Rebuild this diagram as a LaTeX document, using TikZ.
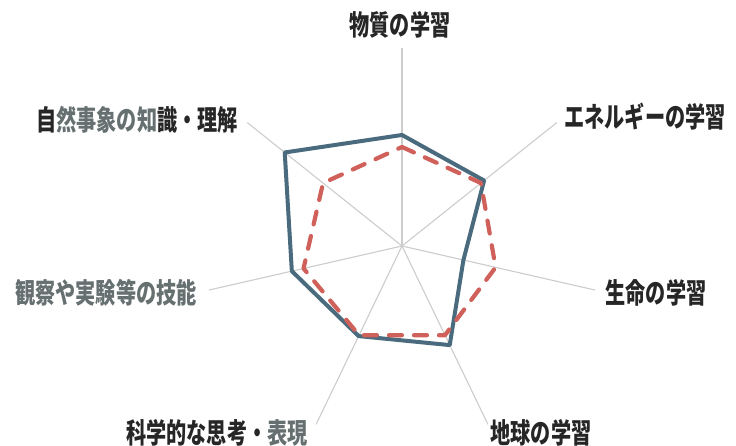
\documentclass[tikz,border=0pt]{standalone}
\usepackage{fontspec}
\newfontfamily\jpfont{Noto Sans CJK JP}[FakeStretch=0.72]
\definecolor{txt}{HTML}{262626}
\definecolor{txtgray}{HTML}{667070}
\definecolor{axisgray}{HTML}{CCCCCC}
\definecolor{seriesblue}{HTML}{4A6A7E}
\definecolor{seriesred}{HTML}{D0605A}
\tikzset{
  lbl/.style={inner sep=0pt, text=txt, font=\jpfont\bfseries\fontsize{28}{30}\selectfont},
  axisline/.style={draw=axisgray, line width=1.1pt},
  blueline/.style={draw=seriesblue, line width=4pt, line join=round},
  reddash/.style={draw=seriesred, line width=4.2pt, line cap=round, line join=round, dash pattern=on 13pt off 12pt}
}
\begin{document}
\begin{tikzpicture}[x=1pt,y=1pt]
\useasboundingbox (0,0) rectangle (736,446);
\coordinate (C) at (402,200);
\begin{scope}[shift={(402,200)}]
  % axis ends
  \foreach \i/\a in {1/90,2/38.571,3/-12.857,4/-64.286,5/-115.714,6/-167.143,7/141.429}{
    \coordinate (E\i) at (\a:198pt);
  }
  % blue series
  \coordinate (B1) at (90:111pt);
  \coordinate (B2) at (38.571:105pt);
  \coordinate (B3) at (-12.857:63pt);
  \coordinate (B4) at (-64.286:110pt);
  \coordinate (B5) at (-115.714:100pt);
  \coordinate (B6) at (-167.143:113pt);
  \coordinate (B7) at (141.429:150pt);
  % red series
  \coordinate (R1) at (90:99pt);
  \coordinate (R2) at (38.571:101pt);
  \coordinate (R3) at (-12.857:96pt);
  \coordinate (R4) at (-64.286:99pt);
  \coordinate (R5) at (-115.714:99pt);
  \coordinate (R6) at (-167.143:101pt);
  \coordinate (R7) at (141.429:101pt);
\end{scope}
\foreach \i in {1,...,7}{ \draw[axisline] (C) -- (E\i); }
\draw[blueline] (B1) -- (B2) -- (B3) -- (B4) -- (B5) -- (B6) -- (B7) -- cycle;
\draw[reddash] (R1) -- (R2) -- (R3) -- (R4) -- (R5) -- (R6) -- (R7) -- cycle;
% labels
\node[lbl] (L1) at (400,421) {物質の学習};
\node[lbl] (L2) at (645,329) {エネルギーの学習};
\node[lbl] (L3) at (656,153) {生命の学習};
\node[lbl] (L4) at (541,13) {地球の学習};
\node[lbl] (L5) at (217,13) {科学的な思考・\textcolor{txtgray}{表現}};
\node[lbl, text=txtgray] (L6) at (106,153) {観察や実験等の技能};
\node[lbl] (L7) at (137,326) {自\textcolor{txtgray}{然事象の知}識・理解};
\end{tikzpicture}
\end{document}
